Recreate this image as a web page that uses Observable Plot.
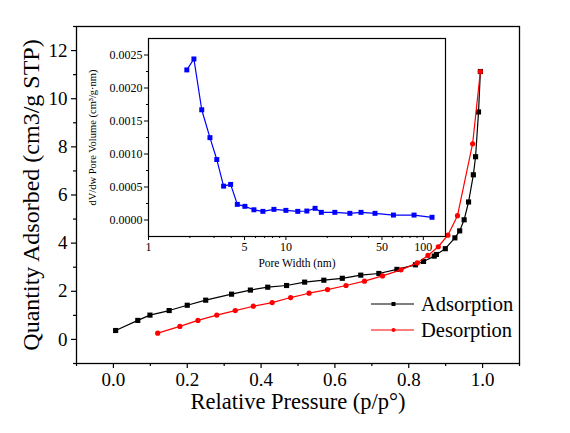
<!DOCTYPE html>
<html><head><meta charset="utf-8">
<script src="https://cdn.jsdelivr.net/npm/d3@7"></script>
<script src="https://cdn.jsdelivr.net/npm/@observablehq/plot@0.6"></script>
<style>
body{margin:0;background:#fff}
#wrap{position:relative;width:570px;height:433px}
#wrap svg{overflow:visible}
</style>
</head><body><div id="wrap"></div>
<script>
// Main isotherm data
const adsP = [0.006,0.066,0.099,0.151,0.200,0.250,0.320,0.371,0.418,0.469,0.518,0.570,0.620,0.670,0.719,0.768,0.818,0.840,0.869,0.875,0.899,0.925,0.938,0.950,0.962,0.975,0.981,0.989,0.994];
const adsQ = [0.37,0.79,1.01,1.20,1.42,1.63,1.88,2.05,2.17,2.24,2.38,2.46,2.54,2.67,2.74,2.91,3.10,3.24,3.46,3.53,3.77,4.22,4.51,4.97,5.71,6.84,7.59,9.45,11.13];
const desP = [0.120,0.180,0.229,0.280,0.330,0.379,0.430,0.480,0.530,0.580,0.630,0.680,0.729,0.779,0.823,0.852,0.880,0.906,0.932,0.973,0.994];
const desQ = [0.26,0.54,0.79,1.01,1.20,1.38,1.53,1.74,1.92,2.07,2.24,2.42,2.64,2.89,3.18,3.49,3.85,4.33,5.14,8.13,11.13];
// Inset pore size distribution
const poreW = [1.90,2.14,2.44,2.80,3.14,3.52,3.96,4.43,5.03,5.85,6.80,8.18,10.0,12.2,14.2,16.3,18.1,22.7,29.2,35.2,44.5,60.6,85.6,115.7];
const poreV = [0.002274,0.002440,0.001670,0.001248,0.000916,0.000513,0.000539,0.000237,0.000207,0.000155,0.000131,0.000161,0.000146,0.000131,0.000136,0.000177,0.000116,0.000116,0.000101,0.000116,0.000101,0.000075,0.000075,0.000041];
// Tick values
const xMajor = [0,0.2,0.4,0.6,0.8,1.0];
const xMinor = [-0.1,0.1,0.3,0.5,0.7,0.9,1.1];
const yMajor = [0,2,4,6,8,10,12];
const yMinor = [-1,1,3,5,7,9,11,13];
const inXMajor = [1,5,10,50,100];
const inXMinor = [2,3,4,6,7,8,9,20,30,40,60,70,80,90];
const inYMajor = [0,0.0005,0.0010,0.0015,0.0020,0.0025];
const inYMinor = [0.00025,0.00075,0.00125,0.00175,0.00225];
const labels = {x:"Relative Pressure (p/p°)", y:"Quantity Adsorbed (cm3/g STP)", ix:"Pore Width (nm)", iy:"dV/dw Pore Volume (cm³/g·nm)"};
const series = ["Adsorption","Desorption"];

// pick an installed serif family
function pickFont(cands){
  const ctx = document.createElement("canvas").getContext("2d");
  const s = "Relative Pressure 0123456789 Wmi";
  for (const c of cands){
    for (const base of ["monospace","sans-serif"]){
      ctx.font = "20px " + base; const w0 = ctx.measureText(s).width;
      ctx.font = "20px '" + c + "', " + base; const w1 = ctx.measureText(s).width;
      if (Math.abs(w1 - w0) > 0.5) return "'" + c + "', serif";
    }
  }
  return "serif";
}
const font = pickFont(["Liberation Serif","Times New Roman","Tinos","DejaVu Serif","Noto Serif","FreeSerif"]);

const ads = adsP.map((p,i)=>({p,q:adsQ[i]}));
const des = desP.map((p,i)=>({p,q:desQ[i]}));
const pore = poreW.map((w,i)=>({w,v:poreV[i]}));

const main = Plot.plot({
  width:570, height:433,
  marginLeft:76, marginRight:51, marginTop:26, marginBottom:70,
  style:{fontFamily:font, background:"transparent", color:"black", overflow:"visible"},
  x:{domain:[-0.1,1.1]},
  y:{domain:[-1,13]},
  marks:[
    Plot.axisX({ticks:xMajor, tickFormat:d=>d.toFixed(1), tickSize:5, tickPadding:4, fontSize:19, fontFamily:font, label:null, strokeWidth:1.2}),
    Plot.axisX({ticks:xMinor, tickFormat:()=> "", tickSize:3, label:null, strokeWidth:1.2}),
    Plot.axisY({ticks:yMajor, tickSize:5, tickPadding:4, fontSize:19, fontFamily:font, label:null, strokeWidth:1.2}),
    Plot.axisY({ticks:yMinor, tickFormat:()=> "", tickSize:3, label:null, strokeWidth:1.2}),
    Plot.frame({stroke:"black", strokeWidth:1.3}),
    Plot.line(ads,{x:"p", y:"q", stroke:"black", strokeWidth:1.2}),
    Plot.dot(ads,{x:"p", y:"q", symbol:"square", fill:"black", r:2.9}),
    Plot.line(des,{x:"p", y:"q", stroke:"#ff0000", strokeWidth:1.2}),
    Plot.dot(des,{x:"p", y:"q", symbol:"circle", fill:"#ff0000", r:2.6}),
    Plot.text([labels.x],{frameAnchor:"bottom", textAnchor:"middle", dy:45, fontSize:22.5, fontFamily:font, fill:"black"}),
    Plot.text([labels.y],{frameAnchor:"left", textAnchor:"middle", dx:-45, rotate:-90, fontSize:24, fontFamily:font, fill:"black"})
  ]
});
main.style.position = "absolute"; main.style.left = "0px"; main.style.top = "0px";
document.getElementById("wrap").appendChild(main);

const inset = Plot.plot({
  width:380, height:245,
  marginLeft:68, marginRight:15, marginTop:8, marginBottom:39,
  style:{fontFamily:font, background:"transparent", color:"black", overflow:"visible"},
  x:{type:"log", domain:[1,145]},
  y:{domain:[-0.00025,0.00275]},
  marks:[
    Plot.axisX({ticks:inXMajor, tickFormat:d=>String(d), tickSize:4, tickPadding:2, fontSize:12, fontFamily:font, label:null}),
    Plot.axisX({ticks:inXMinor, tickFormat:()=> "", tickSize:2, label:null}),
    Plot.axisY({ticks:inYMajor, tickFormat:d3.format(".4f"), tickSize:4, tickPadding:2, fontSize:12, fontFamily:font, label:null}),
    Plot.axisY({ticks:inYMinor, tickFormat:()=> "", tickSize:2, label:null}),
    Plot.frame({stroke:"black", strokeWidth:1.2}),
    Plot.line(pore,{x:"w", y:"v", stroke:"#0000ff", strokeWidth:1.2}),
    Plot.dot(pore,{x:"w", y:"v", symbol:"square", fill:"#0000ff", r:2.8}),
    Plot.text([labels.ix],{frameAnchor:"bottom", textAnchor:"middle", dy:30, fontSize:11.5, fontFamily:font, fill:"black"}),
    Plot.text([labels.iy],{frameAnchor:"left", textAnchor:"middle", dx:-56, rotate:-90, fontSize:10.5, fontFamily:font, fill:"black"})
  ]
});
inset.style.position = "absolute"; inset.style.left = "80px"; inset.style.top = "30px";
document.getElementById("wrap").appendChild(inset);

// Legend
const ns = "http://www.w3.org/2000/svg";
const lg = document.createElementNS(ns,"svg");
lg.setAttribute("width",570); lg.setAttribute("height",433);
lg.setAttribute("style","position:absolute;left:0px;top:0px;");
const cols = ["black","#ff0000"];
series.forEach((s,i)=>{
  const y = 304 + i*26;
  const l = document.createElementNS(ns,"line");
  l.setAttribute("x1",371); l.setAttribute("x2",414); l.setAttribute("y1",y); l.setAttribute("y2",y);
  l.setAttribute("stroke",cols[i]); l.setAttribute("stroke-width",1.2); lg.appendChild(l);
  if(i===0){const r=document.createElementNS(ns,"rect");r.setAttribute("x",391.5);r.setAttribute("y",y-2);r.setAttribute("width",4);r.setAttribute("height",4);r.setAttribute("fill",cols[i]);lg.appendChild(r);}
  else {const c=document.createElementNS(ns,"circle");c.setAttribute("cx",393.5);c.setAttribute("cy",y);c.setAttribute("r",2);c.setAttribute("fill",cols[i]);lg.appendChild(c);}
  const t = document.createElementNS(ns,"text");
  t.setAttribute("x",421); t.setAttribute("y",y+7); t.setAttribute("font-size",20.5);
  t.setAttribute("font-family",font);
  t.textContent = s; lg.appendChild(t);
});
document.getElementById("wrap").appendChild(lg);
</script>
</body></html>
